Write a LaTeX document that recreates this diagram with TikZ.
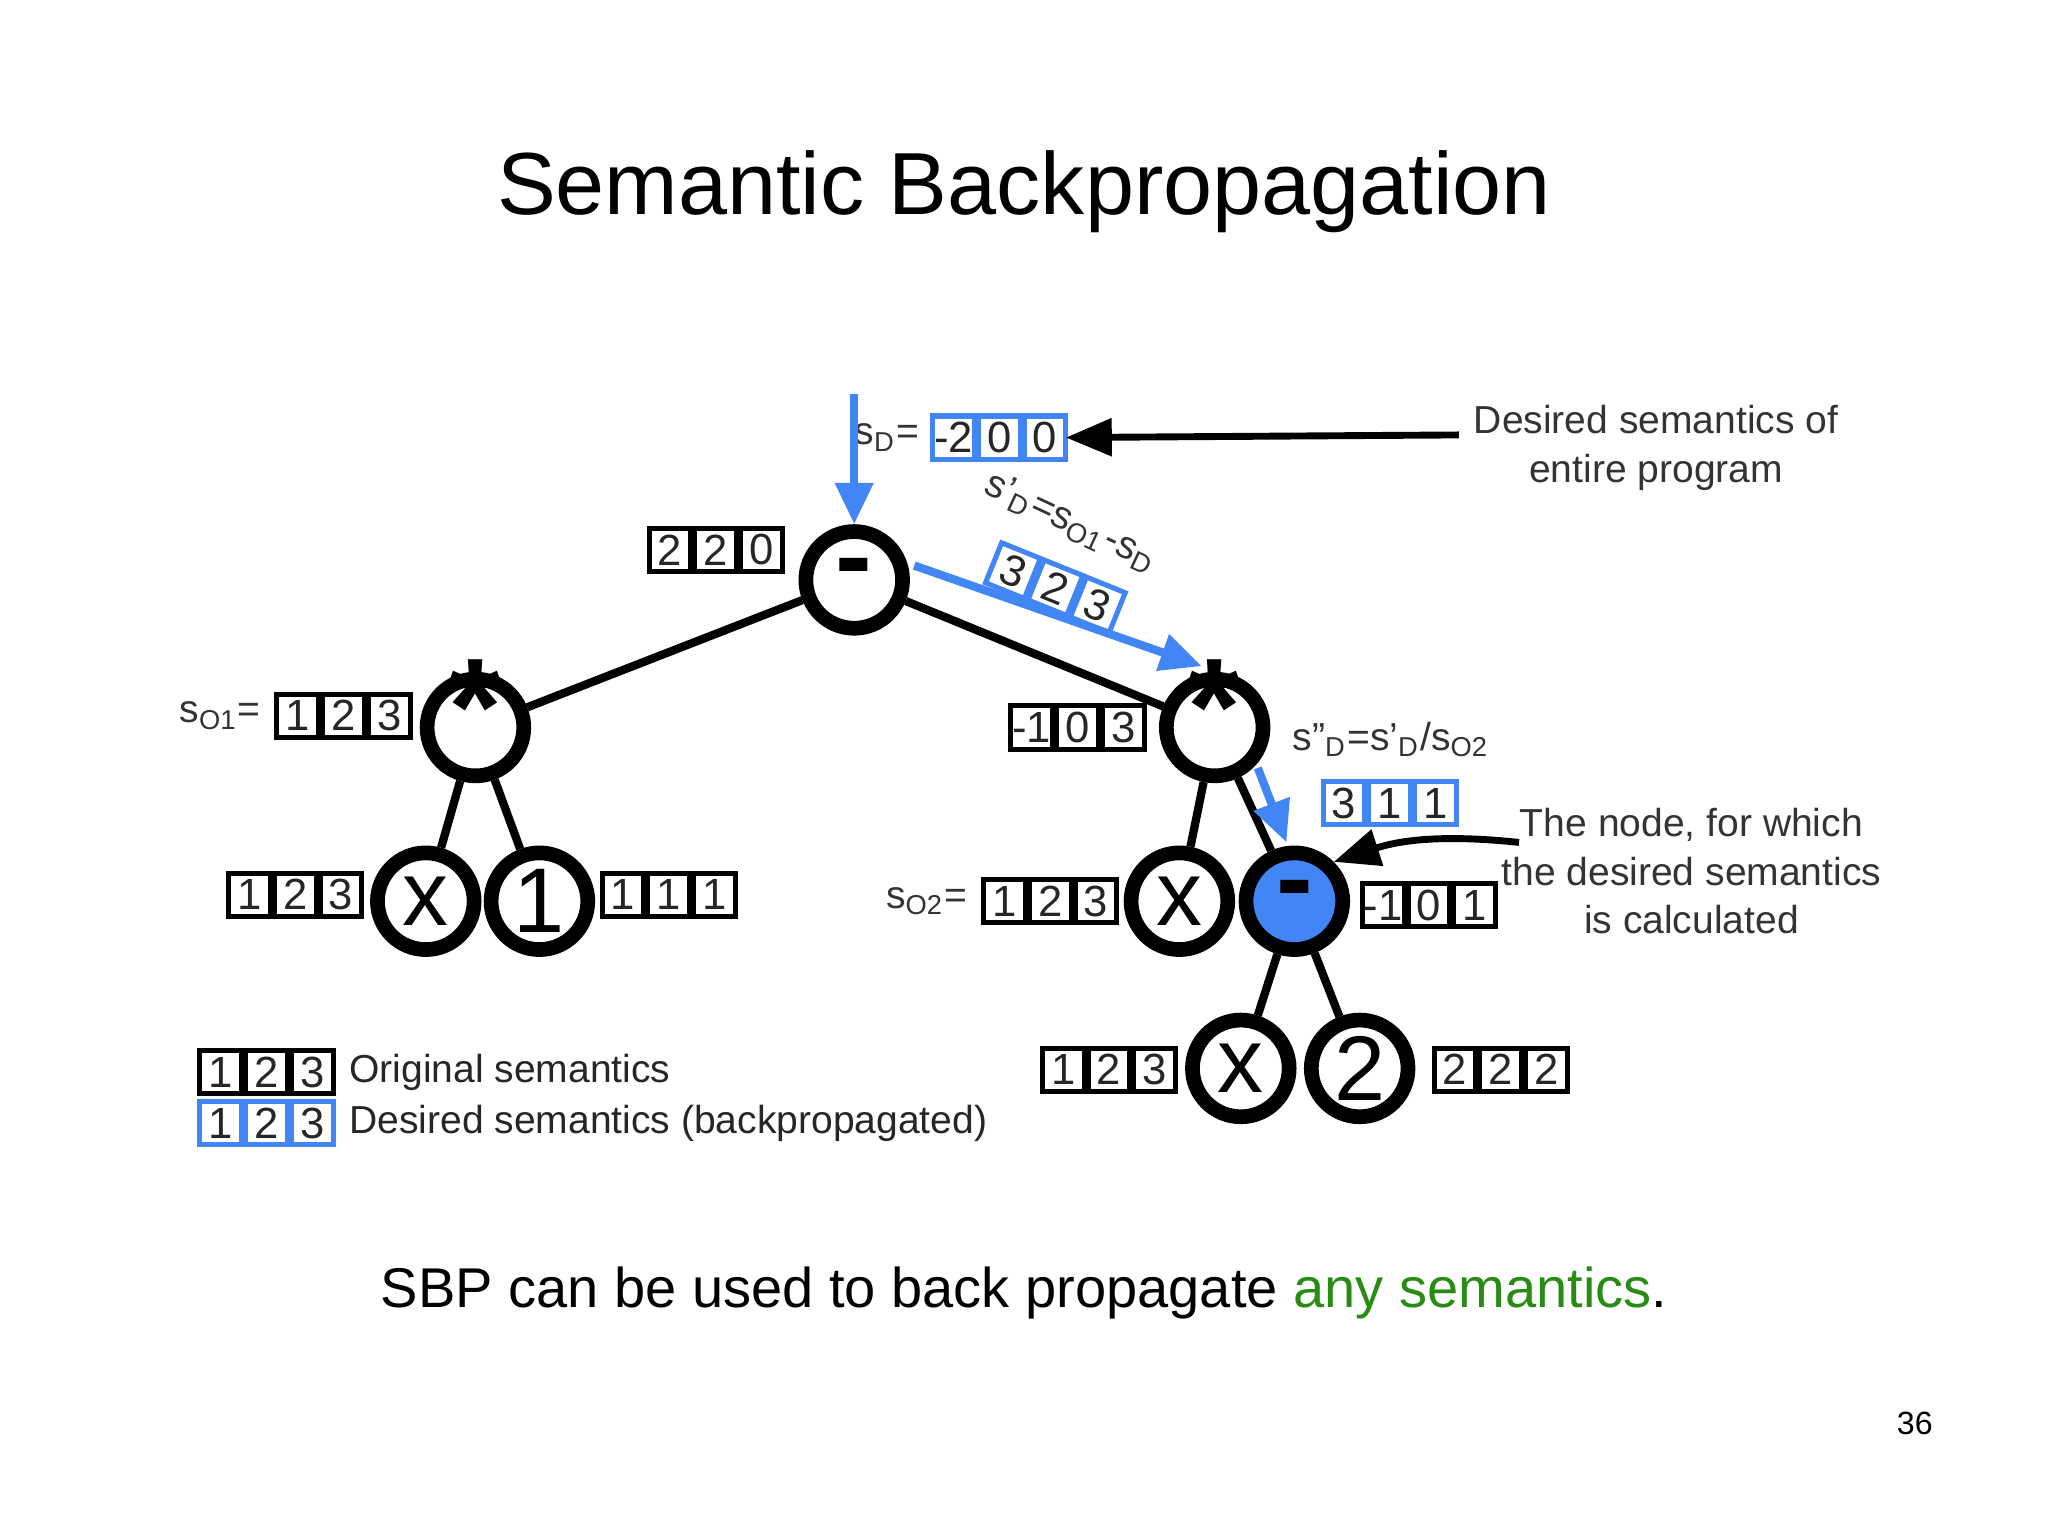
\documentclass[tikz,border=0pt]{standalone}
\usepackage{fontspec}
\setmainfont{Liberation Sans}
\usetikzlibrary{arrows.meta}
\definecolor{bl}{RGB}{66,133,244}
\definecolor{gr}{RGB}{40,140,20}
\tikzset{
 nd/.style={circle,draw,line width=3.2pt,minimum size=0.74cm,inner sep=0pt,font=\fontsize{20}{20}\selectfont},
 star/.style={nd,font=\fontsize{30}{30}\selectfont\bfseries,text height=1.16em,text depth=0pt},
 minus/.style={nd,font=\fontsize{24}{24}\selectfont\bfseries,text height=0.6em,text depth=0pt},
 cell/.style={draw,line width=1.1pt,minimum width=0.32cm,minimum height=0.33cm,inner sep=0pt,outer sep=0pt,font=\fontsize{9.5}{10}\selectfont,text=black!85},
 lab/.style={font=\fontsize{8.5}{10.5}\selectfont,text=black!80},
 ed/.style={line width=1.8pt},
 barr/.style={bl,line width=1.8pt,-{Triangle[length=9pt,width=8pt]}},
 karr/.style={black,line width=1.5pt,-{Triangle[length=10pt,width=8pt]}}
}
\newcommand\tri[7][black]{% color, name, x(left), y(center), a,b,c
 \node[cell,draw=#1,anchor=west] (#2a) at (#3,#4) {#5};
 \node[cell,draw=#1,anchor=west] (#2b) at ([xshift=0.03cm]#2a.east) {#6};
 \node[cell,draw=#1,anchor=west] (#2c) at ([xshift=0.03cm]#2b.east) {#7};
}
\begin{document}
\begin{tikzpicture}[x=0.01cm,y=-0.01cm]
\useasboundingbox (0,0) rectangle (1568,1176);
\node[font=\fontsize{19.2}{22}\selectfont] (title) at (784,147) {Semantic Backpropagation};
% tree nodes
\node[minus] (r) at (654,444) {-};
\node[star] (m1) at (364,557) {*};
\node[star] (m2) at (930,557) {*};
\node[nd] (x1) at (326,690) {x};
\node[nd] (o1) at (413,690) {1};
\node[nd] (x2) at (903,690) {x};
\node[minus,fill=bl] (s2) at (991,690) {-};
\node[nd] (x3) at (950,818) {x};
\node[nd] (t2) at (1041,818) {2};
\draw[ed] (r)--(m1); \draw[ed] (r)--(m2);
\draw[ed] (m1)--(x1); \draw[ed] (m1)--(o1);
\draw[ed] (m2)--(x2); \draw[ed] (m2)--(s2);
\draw[ed] (s2)--(x3); \draw[ed] (s2)--(t2);
% boxes
\tri{b220}{497}{421}{2}{2}{0}
\tri[bl]{bsd}{714}{335}{-2}{0}{0}
\node[lab,anchor=east,xshift=0.02cm] (sd) at (bsda.west) {s$_{\mathrm{D}}$=};
\tri{bo1}{212}{548}{1}{2}{3}
\node[lab,anchor=east] (so1) at (bo1a.west) {s$_{\mathrm{O1}}$=};
\tri{b103}{774}{557}{-1}{0}{3}
\tri{b123a}{175}{685}{1}{2}{3}
\tri{b111}{461}{685}{1}{1}{1}
\tri{bo2}{753}{690}{1}{2}{3}
\node[lab,anchor=east] (so2) at (bo2a.west) {s$_{\mathrm{O2}}$=};
\tri{b101}{1043}{693}{-1}{0}{1}
\tri{b123b}{798}{819}{1}{2}{3}
\tri{b222}{1098}{819}{2}{2}{2}
\tri[bl]{b311}{1013}{615}{3}{1}{1}
\node[lab,anchor=south] (sdd) at (1065,592) {s"$_{\mathrm{D}}$=s'$_{\mathrm{D}}$/s$_{\mathrm{O2}}$};
\begin{scope}[rotate around={-22:(808,450)},transform shape]
\tri[bl]{b323}{757}{450}{3}{2}{3}
\end{scope}
\node[lab,rotate=-25] (sdp) at (820,400) {s'$_{\mathrm{D}}$=s$_{\mathrm{O1}}$-s$_{\mathrm{D}}$};
% legend
\tri{lg1}{153}{821}{1}{2}{3}
\tri[bl]{lg2}{153}{860}{1}{2}{3}
\node[lab,anchor=west,text=black!85] (lt1) at (lg1c.east) {Original semantics};
\node[lab,anchor=west,text=black!85] (lt2) at (lg2c.east) {Desired semantics (backpropagated)};
% annotations
\node[lab,align=center] (ann1) at (1268,343) {Desired semantics of\\entire program};
\node[lab,align=center] (ann2) at (1295,667) {The node, for which\\the desired semantics\\is calculated};
\coordinate (top) at (654,302);
\draw[barr] (top) -- (r.north);
\draw[barr] (700,433) -- (920,510);
\draw[barr] (963,588) -- (985,645);
\draw[karr] (1117,333) -- (bsdc.east);
\draw[karr] (1163,645) to[bend right=12] (s2.north east);
\node[font=\fontsize{12.2}{15}\selectfont] (foot) at (784,990) {SBP can be used to back propagate \textcolor{gr}{any semantics}.};
\node[font=\fontsize{7}{8}\selectfont] (pg) at (1466,1090) {36};
\end{tikzpicture}
\end{document}
